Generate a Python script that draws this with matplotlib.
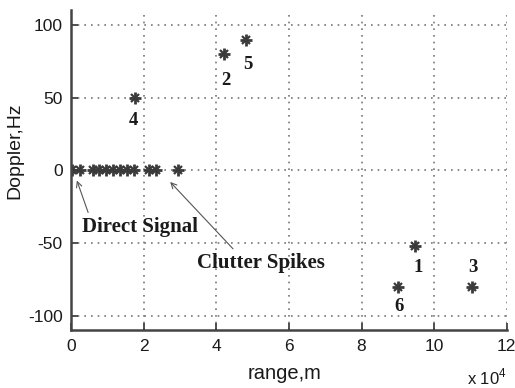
import matplotlib
matplotlib.use("Agg")
import matplotlib.pyplot as plt

# Detected echoes: range (m) and Doppler (Hz)
clutter_range = [300, 2500, 6000, 7800, 9600, 11500, 13400, 15300, 17400, 21500, 23500, 29500]
clutter_doppler = [0] * len(clutter_range)

target_ids = ["1", "2", "3", "4", "5", "6"]
target_range = [94800, 42000, 110400, 17600, 48100, 90000]
target_doppler = [-52, 80, -80, 50, 90, -80]

# label positions next to each target (range m, Doppler Hz)
label_range = [95700, 42600, 110700, 17100, 48800, 90400]
label_doppler = [-67, 62, -67, 34, 73, -94]

x_ticks = [0, 20000, 40000, 60000, 80000, 100000, 120000]
x_tick_labels = ["0", "2", "4", "6", "8", "10", "12"]
y_ticks = [-100, -50, 0, 50, 100]
y_tick_labels = ["-100", "-50", "0", "50", "100"]

sans = "Liberation Sans"
serif = "Liberation Serif"
mark_color = "#3a3a3a"
text_color = "#1a1a1a"

fig = plt.figure(figsize=(5.15, 3.88), dpi=100)
ax = fig.add_axes([0.138, 0.149, 0.846, 0.824])

def star(x, y):
    ax.plot(x, y, linestyle="none", marker="+", markersize=8, mew=2.0, color=mark_color)
    ax.plot(x, y, linestyle="none", marker="x", markersize=5.5, mew=1.6, color=mark_color)

star(clutter_range, clutter_doppler)
star(target_range, target_doppler)

for tid, lx, ly in zip(target_ids, label_range, label_doppler):
    ax.text(lx, ly, tid, fontfamily=serif, fontweight="bold", fontsize=13.5,
            ha="center", va="center", color=text_color)

arrow = dict(arrowstyle="->", color="#555555", lw=0.8, shrinkA=0, shrinkB=0)
ax.annotate("", xy=(1600, -7), xytext=(4700, -29), arrowprops=arrow)
ax.text(18900, -39, "Direct Signal", fontfamily=serif, fontweight="bold", fontsize=15,
        ha="center", va="center", color=text_color)
ax.annotate("", xy=(27300, -8), xytext=(44600, -54), arrowprops=arrow)
ax.text(52400, -64, "Clutter Spikes", fontfamily=serif, fontweight="bold", fontsize=15,
        ha="center", va="center", color=text_color)

ax.set_xlim(0, 120000)
ax.set_ylim(-110, 110)
ax.set_xticks(x_ticks)
ax.set_xticklabels(x_tick_labels, fontfamily=sans, fontsize=12.5, color=text_color)
ax.set_yticks(y_ticks)
ax.set_yticklabels(y_tick_labels, fontfamily=sans, fontsize=12.5, color=text_color)
ax.tick_params(direction="in", length=5, width=1.2, color="#333333", pad=6)

ax.grid(True, linestyle=(0, (1, 3)), color="#777777", linewidth=1.2)
ax.set_axisbelow(True)

for side in ("top", "right"):
    ax.spines[side].set_visible(False)
for side in ("left", "bottom"):
    ax.spines[side].set_linewidth(1.8)
    ax.spines[side].set_color("#444444")

ax.set_xlabel("range,m", fontfamily=sans, fontsize=14.5, color=text_color)
ax.xaxis.set_label_coords(0.49, -0.105)
ax.set_ylabel("Doppler,Hz", fontfamily=sans, fontsize=14, color=text_color)
ax.yaxis.set_label_coords(-0.11, 0.56)

ax.text(1.0, -0.169, r"x 10$^\mathregular{4}$", transform=ax.transAxes,
        fontfamily=sans, fontsize=12, ha="right", va="baseline", color=text_color)

fig.savefig("out.png", dpi=100)
